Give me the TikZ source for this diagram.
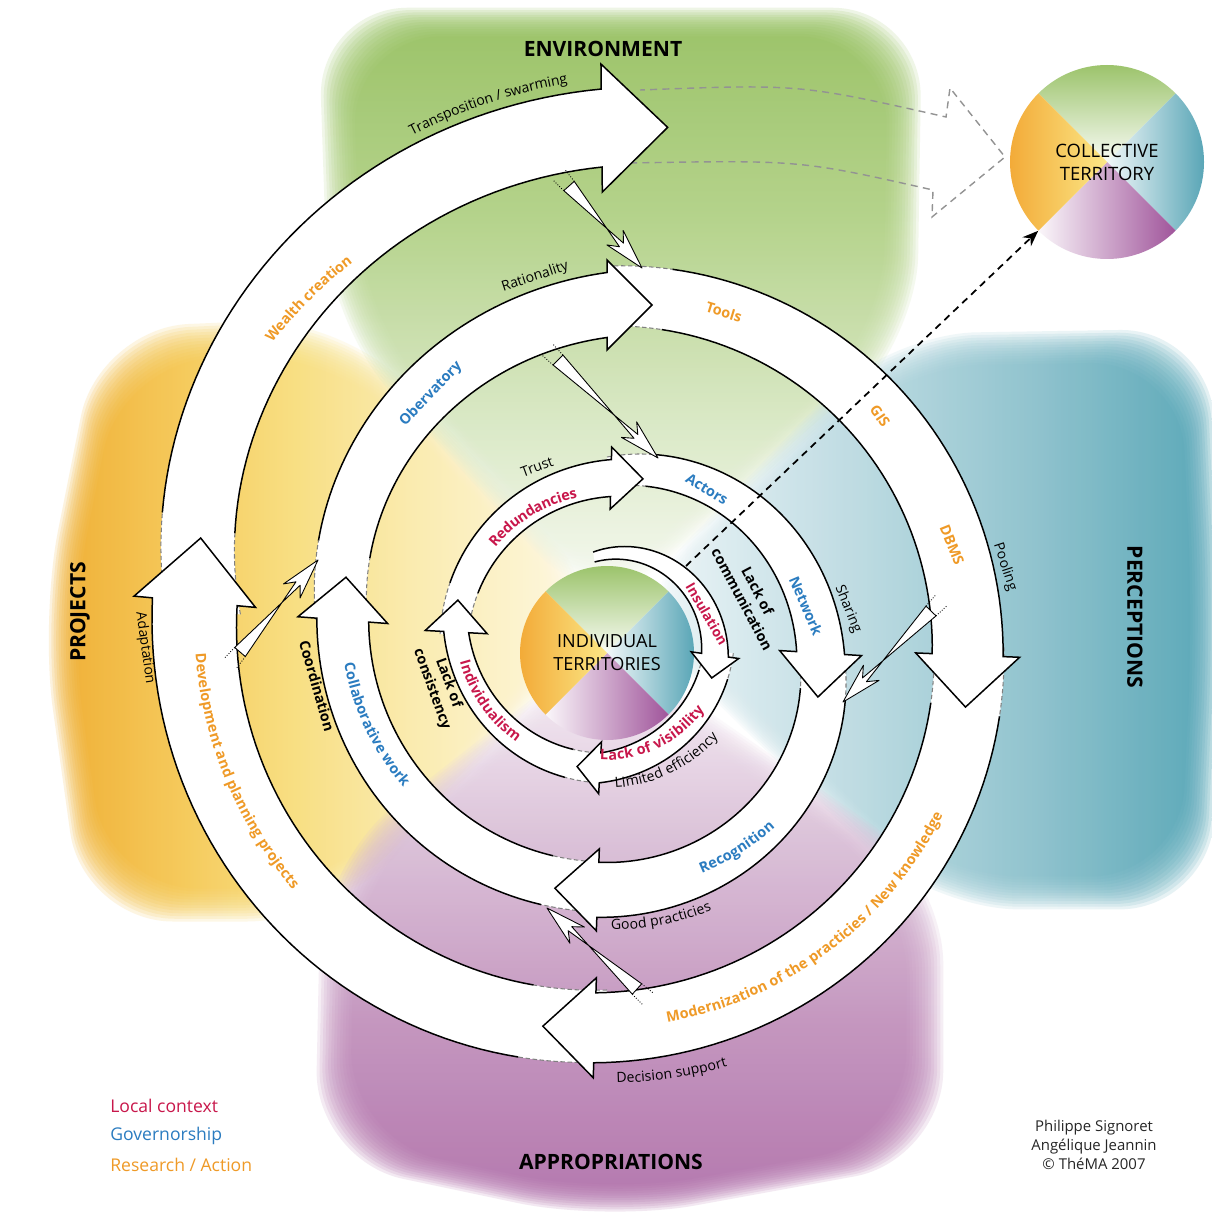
\documentclass[tikz,border=0pt]{standalone}
\usepackage{fontspec}
\setmainfont{Open Sans}
\usetikzlibrary{calc,decorations.text,arrows.meta}
\definecolor{lred}{HTML}{C8174B}
\definecolor{lblue}{HTML}{2B7CC0}
\definecolor{lorange}{HTML}{EF9A27}
\definecolor{gA}{HTML}{F7FAF2}
\definecolor{gB}{HTML}{D4E6BB}
\definecolor{gC}{HTML}{AED07F}
\definecolor{gD}{HTML}{92BF59}
\definecolor{oA}{HTML}{F0A81F}
\definecolor{oB}{HTML}{F5C547}
\definecolor{oC}{HTML}{F8DE75}
\definecolor{oD}{HTML}{FAEBA8}
\definecolor{oE}{HTML}{FEF9E4}
\definecolor{tA}{HTML}{EEF6F8}
\definecolor{tB}{HTML}{B5D8E0}
\definecolor{tC}{HTML}{84BECA}
\definecolor{tD}{HTML}{4AA0B2}
\definecolor{pA}{HTML}{F6EEF5}
\definecolor{pB}{HTML}{D8BAD5}
\definecolor{pC}{HTML}{C08CBA}
\definecolor{pD}{HTML}{AD68A6}
\definecolor{ctG}{HTML}{93BE5E}
\definecolor{ctT}{HTML}{4B9EB0}
\definecolor{ctP}{HTML}{A0559B}
\definecolor{ctO}{HTML}{F2A531}
\definecolor{ctY}{HTML}{FBE786}
\pgfdeclareverticalshading{shgreen}{100bp}{color(0bp)=(gA); color(25bp)=(gA); color(42bp)=(gB); color(58bp)=(gC); color(75bp)=(gD); color(100bp)=(gD)}
\pgfdeclarehorizontalshading{shorange}{100bp}{color(0bp)=(oA); color(25bp)=(oA); color(36bp)=(oB); color(47bp)=(oC); color(58bp)=(oD); color(75bp)=(oE); color(100bp)=(oE)}
\pgfdeclarehorizontalshading{shteal}{100bp}{color(0bp)=(tA); color(25bp)=(tA); color(45bp)=(tB); color(60bp)=(tC); color(75bp)=(tD); color(100bp)=(tD)}
\pgfdeclareverticalshading{shpurple}{100bp}{color(0bp)=(pD); color(25bp)=(pD); color(42bp)=(pC); color(58bp)=(pB); color(75bp)=(pA); color(100bp)=(pA)}
\def\cx{607}\def\cy{640}
\pgfkeys{/sp/.is family}
\pgfkeys{/sp/.cd, th0/.store in=\spA, th1/.store in=\spB, r0/.store in=\spRa, r1/.store in=\spRb,
  w0/.store in=\spWa, w1/.store in=\spWb, bump/.store in=\spBu, hw/.store in=\spHw,
  hl/.store in=\spHl, dash/.store in=\spDa}
\newcommand\zsparrow[1]{%
  \pgfkeys{/sp/.cd,bump=0,dash=10,#1}%
  \pgfmathsetmacro\spS{\spA+\spDa}%
  \pgfmathsetmacro\iEx{\cx+(\spRb-0.5*\spWb)*cos(\spB)}\pgfmathsetmacro\iEy{\cy+(\spRb-0.5*\spWb)*sin(\spB)}%
  \pgfmathsetmacro\bOx{\cx+(\spRb+\spHw)*cos(\spB)}\pgfmathsetmacro\bOy{\cy+(\spRb+\spHw)*sin(\spB)}%
  \pgfmathsetmacro\bIx{\cx+(\spRb-\spHw)*cos(\spB)}\pgfmathsetmacro\bIy{\cy+(\spRb-\spHw)*sin(\spB)}%
  \pgfmathsetmacro\tX{\cx+\spRb*cos(\spB)-\spHl*sin(\spB)}\pgfmathsetmacro\tY{\cy+\spRb*sin(\spB)+\spHl*cos(\spB)}%
  \fill[white] plot[domain=\spA:\spB,samples=50,variable=\t] ({\cx+spo(\t)*cos(\t)},{\cy+spo(\t)*sin(\t)})
     -- (\bOx,\bOy) -- (\tX,\tY) -- (\bIx,\bIy) -- (\iEx,\iEy)
     -- plot[domain=\spB:\spA,samples=50,variable=\t] ({\cx+spi(\t)*cos(\t)},{\cy+spi(\t)*sin(\t)}) -- cycle;
  \draw[arrline] plot[domain=\spS:\spB,samples=50,variable=\t] ({\cx+spo(\t)*cos(\t)},{\cy+spo(\t)*sin(\t)})
     -- (\bOx,\bOy) -- (\tX,\tY) -- (\bIx,\bIy) -- (\iEx,\iEy)
     -- plot[domain=\spB:\spS,samples=50,variable=\t] ({\cx+spi(\t)*cos(\t)},{\cy+spi(\t)*sin(\t)});
  \ifdim\spDa pt>0.1pt
    \draw[taildash] plot[domain=\spA:\spS,samples=10,variable=\t] ({\cx+spo(\t)*cos(\t)},{\cy+spo(\t)*sin(\t)});
    \draw[taildash] plot[domain=\spA:\spS,samples=10,variable=\t] ({\cx+spi(\t)*cos(\t)},{\cy+spi(\t)*sin(\t)});
  \fi
}
\newcommand\zpetal[3]{%
  \foreach \s in {1.06,1.05,1.04,1.03,1.02,1.01,1.0,0.99,0.98,0.97,0.96,0.95,0.94}{%
    \shade[shading=#1, opacity=0.15, scale around={\s:#2}, rounded corners=1.8cm] #3;}%
}
\newcommand\zarclabel[6]{%
  \path[decorate, decoration={text along path, text align=center, raise=-2.8pt, text={|#5|#6}}]
    plot[domain=#1:#2, samples=40, variable=\t]
    ({\cx+(#3+(#4-#3)*(\t-(#1))/((#2)-(#1)))*cos(\t)}, {\cy+(#3+(#4-#3)*(\t-(#1))/((#2)-(#1)))*sin(\t)});
}
\newcommand\zbolt[2]{%
  \path ($(#1)!0.14cm!90:(#2)$) coordinate (zb1) ($(#1)!0.14cm!-90:(#2)$) coordinate (zb2);
  \draw[boltline] (#2) -- ($(#2)!0.84cm!15:(#1)$) -- ($(#2)!0.62cm!5:(#1)$) -- (zb1)
    -- (zb2) -- ($(#2)!0.62cm!-5:(#1)$) -- ($(#2)!0.84cm!-15:(#1)$) -- cycle;
  \draw[densely dotted, line width=0.5pt] (zb1) -- ($(zb1)!0.3cm!180:(#2)$);
  \draw[densely dotted, line width=0.5pt] (zb2) -- ($(zb2)!0.3cm!180:(#2)$);
}
\newcommand\fO{\color{lorange}\bfseries\fontsize{8.2}{10}\selectfont}
\newcommand\fB{\color{lblue}\bfseries\fontsize{8.2}{10}\selectfont}
\newcommand\fR{\color{lred}\bfseries\fontsize{8.2}{10}\selectfont}
\newcommand\fK{\color{black}\fontsize{8}{10}\selectfont}
\begin{document}
\begin{tikzpicture}[x=0.02cm,y=-0.02cm,
  arrline/.style={line width=0.85pt, line join=miter},
  taildash/.style={line width=0.6pt, gray, dash pattern=on 2.5pt off 1.5pt},
  boltline/.style={draw=black, fill=white, line width=0.5pt, line join=round},
  lab/.style={font=\fontsize{8}{10}\selectfont, inner sep=0pt, align=center},
  labb/.style={font=\fontsize{8.2}{10}\selectfont\bfseries, inner sep=0pt, align=center},
  head/.style={font=\fontsize{12}{14}\selectfont\bfseries, inner sep=0pt},
  declare function={
    sps(\u)=(\u-(\spA))/((\spB)-(\spA));
    spr(\u)=(\spRa)+((\spRb)-(\spRa))*sps(\u)+4*(\spBu)*sps(\u)*(1-sps(\u));
    spw(\u)=(\spWa)+((\spWb)-(\spWa))*sps(\u);
    spo(\u)=spr(\u)+0.5*spw(\u);
    spi(\u)=spr(\u)-0.5*spw(\u);
  }]
\useasboundingbox (0,0) rectangle (1211,1213);
\fill[white] (0,0) rectangle (1211,1213);
% ---------- background petals
\zpetal{shorange}{(300,630)}{(600,610) -- (340,335) -- (110,345) -- (55,620) -- (95,905) -- (335,905) -- cycle}
\zpetal{shgreen}{(620,260)}{(600,600) -- (345,320) -- (335,22) -- (905,22) -- (900,340) -- cycle}
\zpetal{shteal}{(950,620)}{(640,610) -- (890,350) -- (1195,345) -- (1208,620) -- (1195,893) -- (930,893) -- cycle}
\zpetal{shpurple}{(620,980)}{(607,660) -- (338,870) -- (332,1150) -- (607,1208) -- (925,1150) -- (925,880) -- cycle}
% ---------- hollow dashed arrow toward collective territory
\coordinate (ha1) at (640,90);
\coordinate (ha2) at (946,117);
\coordinate (ha3) at (950,88);
\coordinate (ha4) at (1005,157);
\coordinate (ha5) at (932,217);
\coordinate (ha6) at (933,190);
\coordinate (ha7) at (630,163);
\draw[gray!85, line width=0.8pt, dash pattern=on 4pt off 3pt] (ha7) .. controls (800,160) .. (ha6) -- (ha5) -- (ha4) -- (ha3) -- (ha2) .. controls (800,84) .. (ha1);
% ---------- individual territories circle (wedges)
\coordinate (c2) at (607,653);
\shade[top color=ctG, bottom color=white!94!ctG] (c2) -- ($(c2)+(225:87)$) arc[start angle=225,end angle=315,radius=87] -- cycle;
\shade[left color=white!92!ctT, right color=ctT] (c2) -- ($(c2)+(-45:87)$) arc[start angle=-45,end angle=45,radius=87] -- cycle;
\shade[left color=white!95!ctP, right color=ctP] (c2) -- ($(c2)+(45:87)$) arc[start angle=45,end angle=135,radius=87] -- cycle;
\shade[left color=ctO, right color=ctY] (c2) -- ($(c2)+(135:87)$) arc[start angle=135,end angle=225,radius=87] -- cycle;
\node[circle, minimum size=3.48cm, inner sep=0pt, font=\fontsize{10.3}{13}\selectfont, align=center] (it) at (c2) {INDIVIDUAL\\TERRITORIES};
% ---------- spiral arrows (outermost first)
\zsparrow{th0=904, th1=989.4, r0=405, r1=512, w0=75, w1=78, bump=10, hw=64, hl=66, dash=12}
\zsparrow{th0=810, th1=905.3, r0=386, r1=414, w0=72, w1=85, hw=61, hl=64, dash=12}
\zsparrow{th0=721, th1=811.8, r0=362, r1=388, w0=70, w1=70, hw=50, hl=52, dash=10}
\zsparrow{th0=630, th1=722.4, r0=344, r1=361, w0=60, w1=71, hw=52, hl=52, dash=10}
\zsparrow{th0=544, th1=630, r0=266, r1=335, w0=52, w1=65, hw=45, hl=45, dash=15}
\zsparrow{th0=452, th1=544.3, r0=247, r1=265, w0=50, w1=52, bump=-4, hw=45, hl=43, dash=12}
\zsparrow{th0=362, th1=452.1, r0=214, r1=250, w0=45, w1=55, bump=8, hw=41, hl=43, dash=12}
\zsparrow{th0=270, th1=363.5, r0=168, r1=214, w0=30, w1=48, hw=41, hl=44, dash=14}
\zsparrow{th0=182, th1=271.4, r0=153, r1=162, w0=28, w1=37, bump=-4, hw=31, hl=32, dash=18}
\zsparrow{th0=92, th1=183, r0=128, r1=151, w0=30, w1=25, bump=-5, hw=31, hl=32, dash=15}
\zsparrow{th0=6, th1=93.1, r0=112, r1=128, w0=30, w1=30, bump=-5, hw=26, hl=23, dash=12}
\zsparrow{th0=-99, th1=8, r0=84, r1=109, w0=10, w1=27, hw=24, hl=23, dash=0}
% ---------- lightning arrows
\coordinate (l1s) at (569,186); \coordinate (l1t) at (642,268);
\coordinate (l2s) at (558,360); \coordinate (l2t) at (658,458);
\coordinate (l3s) at (931,611); \coordinate (l3t) at (843,702);
\coordinate (l4s) at (637,989); \coordinate (l4t) at (547,908);
\coordinate (l5s) at (240,652); \coordinate (l5t) at (318,560);
\zbolt{l1s}{l1t}
\zbolt{l2s}{l2t}
\zbolt{l3s}{l3t}
\zbolt{l4s}{l4t}
\zbolt{l5s}{l5t}
% ---------- collective territory circle
\coordinate (c3) at (1107,162);
\shade[top color=ctG, bottom color=white!94!ctG] (c3) -- ($(c3)+(225:97)$) arc[start angle=225,end angle=315,radius=97] -- cycle;
\shade[left color=white!92!ctT, right color=ctT] (c3) -- ($(c3)+(-45:97)$) arc[start angle=-45,end angle=45,radius=97] -- cycle;
\shade[left color=white!95!ctP, right color=ctP] (c3) -- ($(c3)+(45:97)$) arc[start angle=45,end angle=135,radius=97] -- cycle;
\shade[left color=ctO, right color=ctY] (c3) -- ($(c3)+(135:97)$) arc[start angle=135,end angle=225,radius=97] -- cycle;
\node[circle, minimum size=3.88cm, inner sep=0pt, font=\fontsize{10.5}{13}\selectfont, align=center] (ct) at (c3) {COLLECTIVE\\TERRITORY};
% ---------- dashed link
\coordinate (dstart) at (686,566);
\draw[line width=1pt, dash pattern=on 4pt off 3pt, -{Stealth[length=9pt,width=7pt]}] (dstart) -- (ct.225);
% ---------- curved labels
\zarclabel{235}{279}{532}{576}{\fK}{Transposition / swarming}
\zarclabel{205}{252}{444}{468}{\fO}{Wealth creation}
\zarclabel{100}{8}{385}{371}{\fO}{Modernization of the practicies / New knowledge}
\zarclabel{100}{63}{438}{438}{\fK}{Decision support}
\zarclabel{96}{62}{285}{285}{\fK}{Good practicies}
\zarclabel{75}{41}{247}{247}{\fB}{Recognition}
\zarclabel{92}{36}{143}{143}{\fK}{Limited efficiency}
\zarclabel{98}{31}{115}{115}{\fR}{Lack of visibility}
\zarclabel{186}{116}{148}{127}{\fR}{Individualism}
\zarclabel{190}{128}{265}{240}{\fB}{Collaborative work}
\zarclabel{196}{123}{412}{391}{\fO}{Development and planning projects}
\zarclabel{205}{273}{150}{150}{\fR}{Redundancies}
% ---------- straight labels
\node[lab, rotate=18] (tRat) at (535,277) {Rationality};
\node[labb, text=lblue, rotate=46] (tObs) at (431,394) {Obervatory};
\node[labb, text=lorange, rotate=-17] (tToo) at (724,312) {Tools};
\node[labb, text=lorange, rotate=-55] (tGIS) at (880,416) {GIS};
\node[labb, text=lorange, rotate=-68] (tDBMS) at (952,545) {DBMS};
\node[lab, rotate=-72] (tPool) at (1005,567) {Pooling};
\node[labb, rotate=-74] (tCoo) at (317,686) {Coordination};
\node[lab, rotate=-82] (tAda) at (145,648) {Adaptation};
\node[labb, rotate=-70] (tLoc) at (440,686) {Lack of\\consistency};
\node[lab, rotate=20] (tTru) at (537,467) {Trust};
\node[labb, text=lblue, rotate=-32] (tAct) at (707,489) {Actors};
\node[labb, text=lblue, rotate=-67] (tNet) at (806,606) {Network};
\node[lab, rotate=-68] (tSha) at (848,609) {Sharing};
\node[labb, text=lred, rotate=-60, font=\fontsize{7.8}{10}\selectfont\bfseries] (tIns) at (707,614) {Insulation};
\node[labb, rotate=-62] (tLcom) at (750,595) {Lack of\\communication};
% ---------- headings
\node[head] (hEnv) at (603,49) {ENVIRONMENT};
\node[head] (hApp) at (611,1162) {APPROPRIATIONS};
\node[head, rotate=-90] (hPer) at (1135,617) {PERCEPTIONS};
\node[head, rotate=90] (hPro) at (80,612) {PROJECTS};
% ---------- legend and credits
\node[anchor=west, inner sep=0pt, text=lred, font=\fontsize{10}{12}\selectfont] (lg1) at (110,1106) {Local context};
\node[anchor=west, inner sep=0pt, text=lblue, font=\fontsize{10}{12}\selectfont] (lg2) at (110,1136) {Governorship};
\node[anchor=west, inner sep=0pt, text=lorange, font=\fontsize{10}{12}\selectfont] (lg3) at (110,1165) {Research / Action};
\node[inner sep=0pt, font=\fontsize{8.5}{10.8}\selectfont, align=center, text=black!85] (cred) at (1094,1145) {Philippe Signoret\\Angélique Jeannin\\© ThéMA 2007};
\end{tikzpicture}
\end{document}
